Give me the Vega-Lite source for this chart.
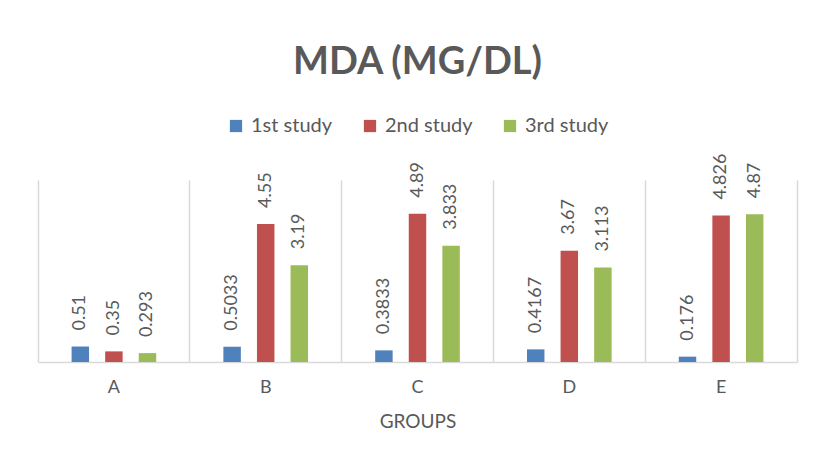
{
  "$schema": "https://vega.github.io/schema/vega-lite/v6.json",
  "width": 759,
  "height": 182,
  "autosize": {"type": "none"},
  "padding": {"left": 38, "top": 180, "right": 19, "bottom": 102},
  "background": "white",
  "title": {
    "text": "MDA (MG/DL)",
    "frame": "group",
    "anchor": "middle",
    "baseline": "alphabetic",
    "offset": 4,
    "font": "Lato",
    "fontSize": 38,
    "fontWeight": "bold",
    "color": "#595959"
  },
  "data": {
    "values": [
      {"group": "A", "study": "1st study", "value": 0.51, "label": "0.51"},
      {"group": "A", "study": "2nd study", "value": 0.35, "label": "0.35"},
      {"group": "A", "study": "3rd study", "value": 0.293, "label": "0.293"},
      {"group": "B", "study": "1st study", "value": 0.5033, "label": "0.5033"},
      {"group": "B", "study": "2nd study", "value": 4.55, "label": "4.55"},
      {"group": "B", "study": "3rd study", "value": 3.19, "label": "3.19"},
      {"group": "C", "study": "1st study", "value": 0.3833, "label": "0.3833"},
      {"group": "C", "study": "2nd study", "value": 4.89, "label": "4.89"},
      {"group": "C", "study": "3rd study", "value": 3.833, "label": "3.833"},
      {"group": "D", "study": "1st study", "value": 0.4167, "label": "0.4167"},
      {"group": "D", "study": "2nd study", "value": 3.67, "label": "3.67"},
      {"group": "D", "study": "3rd study", "value": 3.113, "label": "3.113"},
      {"group": "E", "study": "1st study", "value": 0.176, "label": "0.176"},
      {"group": "E", "study": "2nd study", "value": 4.826, "label": "4.826"},
      {"group": "E", "study": "3rd study", "value": 4.87, "label": "4.87"}
    ]
  },
  "encoding": {
    "x": {
      "field": "group",
      "type": "nominal",
      "scale": {"paddingInner": 0, "paddingOuter": 0},
      "axis": {
        "title": "GROUPS",
        "labelAngle": 0,
        "labelFont": "Lato",
        "labelFontSize": 18,
        "labelColor": "#595959",
        "labelPadding": 16,
        "titleFont": "Lato",
        "titleFontSize": 19,
        "titleFontWeight": "normal",
        "titleColor": "#595959",
        "titlePadding": 16,
        "domainColor": "#D9D9D9",
        "domainWidth": 1.5,
        "ticks": false,
        "grid": true,
        "gridColor": "#D9D9D9",
        "gridWidth": 1.5,
        "bandPosition": 1,
        "tickExtra": true
      }
    },
    "xOffset": {
      "field": "study",
      "type": "nominal",
      "scale": {"paddingInner": 0.48, "paddingOuter": 1.19}
    },
    "y": {
      "field": "value",
      "type": "quantitative",
      "scale": {"domain": [0, 6]},
      "axis": null
    }
  },
  "layer": [
    {
      "mark": {"type": "bar"},
      "encoding": {
        "color": {
          "field": "study",
          "type": "nominal",
          "scale": {
            "domain": ["1st study", "2nd study", "3rd study"],
            "range": ["#4F81BD", "#C0504D", "#9BBB59"]
          },
          "legend": {
            "title": null,
            "orient": "none",
            "direction": "horizontal",
            "legendX": 188,
            "legendY": -64,
            "symbolType": "square",
            "symbolSize": 150,
            "symbolStrokeWidth": 0,
            "labelFont": "Lato",
            "labelFontSize": 20,
            "labelColor": "#595959",
            "labelOffset": 5,
            "columnPadding": 27
          }
        }
      }
    },
    {
      "mark": {
        "type": "text",
        "angle": 270,
        "align": "left",
        "baseline": "middle",
        "dx": 16,
        "font": "Lato",
        "fontSize": 18,
        "color": "#595959"
      },
      "encoding": {
        "text": {"field": "label", "type": "nominal"}
      }
    }
  ],
  "config": {
    "view": {"stroke": null}
  }
}
